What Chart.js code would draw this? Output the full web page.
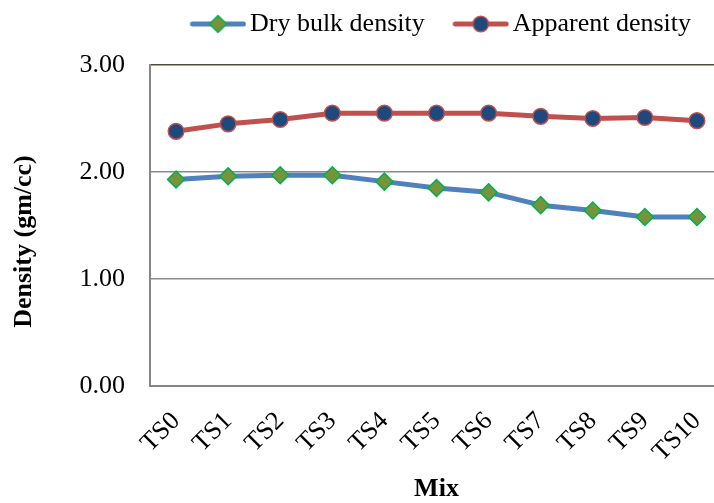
<!DOCTYPE html>
<html>
<head>
<meta charset="utf-8">
<script src="https://cdn.jsdelivr.net/npm/chart.js@4/dist/chart.umd.min.js"></script>
<style>
  html, body { margin: 0; padding: 0; background: #ffffff; overflow: hidden; }
  #wrap { width: 714px; height: 503px; overflow: hidden; position: relative; }
  canvas { display: block; }
</style>
</head>
<body>
<div id="wrap"><canvas id="chart" width="740" height="503"></canvas></div>
<script>
// Density of each mix
const categories = ['TS0', 'TS1', 'TS2', 'TS3', 'TS4', 'TS5', 'TS6', 'TS7', 'TS8', 'TS9', 'TS10'];
const dryBulkDensity = [1.93, 1.96, 1.97, 1.97, 1.91, 1.85, 1.81, 1.69, 1.64, 1.58, 1.58];
const apparentDensity = [2.38, 2.45, 2.49, 2.55, 2.55, 2.55, 2.55, 2.52, 2.50, 2.51, 2.48];
const yTickValues = [0, 1, 2, 3];
const seriesNames = ['Dry bulk density', 'Apparent density'];
const xTitle = 'Mix';
const yTitle = 'Density (gm/cc)';

const FONT = '"Liberation Serif", "Times New Roman", serif';

const dryStyle = {
  line: '#4F81BD', pointStyle: 'rectRot', radius: 8.5,
  fill: '#77933C', stroke: '#00B050'
};
const appStyle = {
  line: '#C0504D', pointStyle: 'circle', radius: 7.8,
  fill: '#1F497D', stroke: '#C0504D'
};

// Legend icon: a short line segment with the series marker in its middle
function legendIcon(style) {
  const c = document.createElement('canvas');
  c.width = 74; c.height = 22;
  const ctx = c.getContext('2d');
  ctx.lineCap = 'round';
  ctx.strokeStyle = style.line;
  ctx.lineWidth = 5;
  ctx.beginPath();
  ctx.moveTo(20, 11);
  ctx.lineTo(71, 11);
  ctx.stroke();
  ctx.fillStyle = style.fill;
  ctx.strokeStyle = style.stroke;
  ctx.lineWidth = 1.5;
  Chart.helpers.drawPoint(ctx, {pointStyle: style.pointStyle, radius: style.radius, rotation: 0, borderWidth: 1.5}, 45.5, 11);
  return c;
}
const icons = [legendIcon(dryStyle), legendIcon(appStyle)];

// Rotated title beside the value axis
const yTitlePlugin = {
  id: 'yTitle',
  afterDraw(chart) {
    const {ctx, chartArea} = chart;
    ctx.save();
    ctx.translate(24, (chartArea.top + chartArea.bottom) / 2 + 16);
    ctx.rotate(-Math.PI / 2);
    ctx.font = 'bold 26px ' + FONT;
    ctx.fillStyle = '#000000';
    ctx.textAlign = 'center';
    ctx.textBaseline = 'middle';
    ctx.fillText(yTitle, 0, 0);
    ctx.restore();
  }
};

new Chart(document.getElementById('chart'), {
  type: 'line',
  data: {
    labels: categories,
    datasets: [
      {
        label: seriesNames[0],
        data: dryBulkDensity,
        borderColor: dryStyle.line,
        borderWidth: 5,
        pointStyle: dryStyle.pointStyle,
        pointRadius: dryStyle.radius,
        pointBackgroundColor: dryStyle.fill,
        pointBorderColor: dryStyle.stroke,
        pointBorderWidth: 1.5,
        tension: 0,
        borderCapStyle: 'round',
        borderJoinStyle: 'round'
      },
      {
        label: seriesNames[1],
        data: apparentDensity,
        borderColor: appStyle.line,
        borderWidth: 5,
        pointStyle: appStyle.pointStyle,
        pointRadius: appStyle.radius,
        pointBackgroundColor: appStyle.fill,
        pointBorderColor: appStyle.stroke,
        pointBorderWidth: 1.5,
        tension: 0,
        borderCapStyle: 'round',
        borderJoinStyle: 'round'
      }
    ]
  },
  options: {
    responsive: false,
    animation: false,
    devicePixelRatio: 1,
    layout: { padding: { top: -9, right: 17, bottom: 0, left: 0 } },
    plugins: {
      tooltip: { enabled: false },
      title: {
        // spacer between legend and plot area
        display: true, text: '', position: 'top', weight: 500,
        padding: 0, font: { size: 18, lineHeight: '18px' }
      },
      legend: {
        position: 'top',
        fullSize: false,
        labels: {
          usePointStyle: true,
          pointStyleWidth: 55,
          padding: 20,
          color: '#000000',
          font: { family: FONT, size: 26 },
          generateLabels(chart) {
            const items = Chart.defaults.plugins.legend.labels.generateLabels(chart);
            items.forEach((it, i) => { it.pointStyle = icons[i]; });
            return items;
          }
        }
      }
    },
    scales: {
      x: {
        offset: true,
        afterFit(scale) { scale.height = 117; },
        grid: { display: false, drawTicks: false },
        border: { display: true, color: '#868686', width: 2 },
        ticks: {
          autoSkip: false, minRotation: 45, maxRotation: 45, padding: 20,
          color: '#000000', font: { family: FONT, size: 26 }
        },
        title: {
          display: true, text: xTitle, color: '#000000',
          padding: { top: 0, bottom: 0 },
          font: { family: FONT, size: 26, weight: 'bold', lineHeight: 1.05 }
        }
      },
      y: {
        min: 0, max: 3,
        afterFit(scale) { scale.width = 150; },
        afterBuildTicks(scale) { scale.ticks = yTickValues.map(v => ({ value: v })); },
        grid: {
          drawTicks: false,
          lineWidth: 1.5,
          color: ctx => (ctx.tick && ctx.tick.value === 3 ? '#524c33' : '#8a8a8a')
        },
        border: { display: true, color: '#868686', width: 2 },
        ticks: {
          padding: 25, color: '#000000',
          font: { family: FONT, size: 26 },
          callback: v => Number(v).toFixed(2)
        }
      }
    }
  },
  plugins: [yTitlePlugin]
});
</script>
</body>
</html>
